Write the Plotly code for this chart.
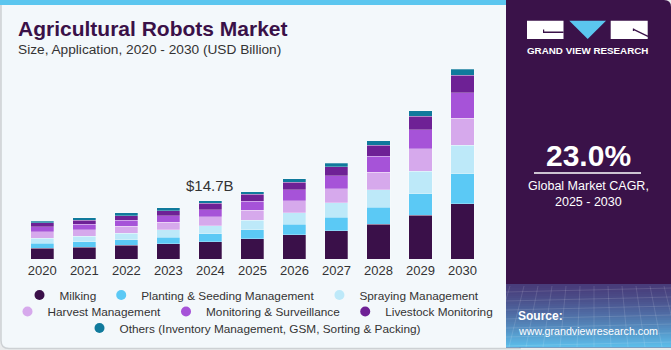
import plotly.graph_objects as go

W, H = 671, 350

years = ["2020", "2021", "2022", "2023", "2024", "2025", "2026", "2027", "2028", "2029", "2030"]
segments = [
    "Milking",
    "Planting & Seeding Management",
    "Spraying Management",
    "Harvest Management",
    "Monitoring & Surveillance",
    "Livestock Monitoring",
    "Others (Inventory Management, GSM, Sorting & Packing)",
]
milking    = [2.77, 3.02, 3.44, 3.86, 4.37, 5.04, 6.05, 7.14, 8.74, 11.0, 13.9]
planting   = [1.18, 1.34, 1.43, 1.60, 1.93, 2.35, 2.69, 3.44, 4.28, 5.46, 7.56]
spraying   = [1.26, 1.34, 1.60, 1.85, 2.10, 2.35, 2.94, 3.53, 4.45, 5.63, 7.14]
harvest    = [1.60, 1.68, 1.76, 1.93, 2.27, 2.60, 2.94, 3.61, 4.37, 5.63, 6.89]
monitoring = [1.26, 1.34, 1.51, 1.68, 1.76, 2.27, 2.77, 3.28, 4.03, 4.87, 6.38]
livestock  = [1.00, 1.00, 1.18, 1.26, 1.60, 1.68, 1.93, 2.18, 2.77, 3.36, 4.37]
others     = [0.50, 0.67, 0.67, 0.76, 0.67, 0.67, 0.92, 1.00, 1.09, 1.34, 1.60]
series_values = [milking, planting, spraying, harvest, monitoring, livestock, others]
colors = ["#3a1049", "#5bc9f5", "#bde9f9", "#d6a9ec", "#a653d8", "#6e2195", "#107a9c"]
legend_rows = ["legend", "legend", "legend", "legend2", "legend2", "legend2", "legend3"]
highlight_year = "2024"
highlight_label = "$14.7B"
cagr_text = "23.0%"


def X(px):
    return px / W


def Y(py):
    return 1 - py / H


fig = go.Figure()
for name, vals, col in zip(segments, series_values, colors):
    fig.add_trace(go.Bar(
        x=years, y=vals, name=name, marker_color=col,
        marker_line=dict(width=0.6, color="rgba(255,255,255,0.45)"),
        showlegend=False, hoverinfo="skip",
    ))
for name, col, lg in zip(segments, colors, legend_rows):
    fig.add_trace(go.Scatter(
        x=[years[0]], y=[None], mode="markers", name=name, legend=lg,
        marker=dict(color=col, size=10, symbol="circle"), showlegend=True, hoverinfo="skip",
    ))

hl_idx = years.index(highlight_year)
total_hl = sum(s[hl_idx] for s in series_values)

shapes = []
# left panel
r = 8
x0, x1, y0, y1 = 1, 520, 0, 348.5
shapes.append(dict(
    type="path", xref="paper", yref="paper", layer="below",
    path=(f"M {X(x0)} {Y(y0)} L {X(x1)} {Y(y0)} L {X(x1)} {Y(y1)} L {X(x0 + r)} {Y(y1)} "
          f"Q {X(x0)} {Y(y1)} {X(x0)} {Y(y1 - r)} Z"),
    fillcolor="#f3f8fb", line=dict(color="#cdd1d4", width=1.5),
))
# top blue stripe
shapes.append(dict(type="rect", xref="paper", yref="paper", layer="below",
                   x0=X(0), x1=X(512), y0=Y(0), y1=Y(5), fillcolor="#5bc6ef", line_width=0))
# dark panel with rounded top-right corner
px0, px1, py0, py1 = 506, 671, 0, 347.5
r2 = 7
shapes.append(dict(
    type="path", xref="paper", yref="paper", layer="below",
    path=(f"M {X(px0)} {Y(py0)} L {X(px1 - r2)} {Y(py0)} Q {X(px1)} {Y(py0)} {X(px1)} {Y(py0 + r2)} "
          f"L {X(px1)} {Y(py1)} L {X(px0)} {Y(py1)} Z"),
    fillcolor="#3a1249", line_width=0,
))


def lerp(a, b, t):
    return int(round(a + (b - a) * t))


c_top = (0x48, 0x3c, 0x7a)
c_bot = (0x5c, 0xbd, 0xea)
gy0, gy1 = 284, 347.5
n = 32
for i in range(n):
    t = i / (n - 1)
    col = "#%02x%02x%02x" % tuple(lerp(c_top[k], c_bot[k], t ** 1.3) for k in range(3))
    ya = gy0 + (gy1 - gy0) * i / n
    yb = gy0 + (gy1 - gy0) * (i + 1) / n + 0.5
    shapes.append(dict(type="rect", xref="paper", yref="paper", layer="below",
                       x0=X(px0), x1=X(px1), y0=Y(ya), y1=Y(min(yb, gy1)),
                       fillcolor=col, line_width=0))
# faint grid texture
for k in range(7):
    yy = 290 + k * 9
    shapes.append(dict(type="line", xref="paper", yref="paper", layer="below",
                       x0=X(px0), x1=X(px1), y0=Y(yy + 2), y1=Y(yy - 2),
                       line=dict(color="rgba(255,255,255,0.12)", width=1)))
for k in range(12):
    xx = 510 + k * 14
    shapes.append(dict(type="line", xref="paper", yref="paper", layer="below",
                       x0=X(xx), x1=X(xx + (k - 6) * 3), y0=Y(286), y1=Y(347),
                       line=dict(color="rgba(255,255,255,0.12)", width=1)))
# logo
shapes.append(dict(type="rect", xref="paper", yref="paper", x0=X(527), x1=X(563.5), y0=Y(20.7), y1=Y(39),
                   fillcolor="white", line_width=0))
shapes.append(dict(type="path", xref="paper", yref="paper",
                   path=f"M {X(543)} {Y(29.5)} L {X(543)} {Y(33)} L {X(563.5)} {Y(33)} L {X(563.5)} {Y(31.5)} L {X(544.2)} {Y(31.5)} L {X(544.2)} {Y(29.5)} Z",
                   fillcolor="#3a1249", line_width=0))
shapes.append(dict(type="path", xref="paper", yref="paper",
                   path=f"M {X(569.3)} {Y(20.7)} L {X(606)} {Y(20.7)} L {X(587.7)} {Y(39)} Z",
                   fillcolor="#5bc6ef", line_width=0))
shapes.append(dict(type="rect", xref="paper", yref="paper", x0=X(610.7), x1=X(647.7), y0=Y(20.7), y1=Y(39),
                   fillcolor="white", line_width=0))
shapes.append(dict(type="line", xref="paper", yref="paper", x0=X(633.5), x1=X(648), y0=Y(29.3), y1=Y(36.3),
                   line=dict(color="#3a1249", width=1.3)))
shapes.append(dict(type="line", xref="paper", yref="paper", x0=X(633.5), x1=X(633.5), y0=Y(28.5), y1=Y(31),
                   line=dict(color="#3a1249", width=1.3)))
# CAGR underline
shapes.append(dict(type="line", xref="paper", yref="paper", x0=X(534), x1=X(641), y0=Y(173), y1=Y(173),
                   line=dict(color="white", width=1.3)))

font_main = "Liberation Sans, Arial, sans-serif"
annotations = [
    dict(text="<b>Agricultural Robots Market</b>", x=X(16), y=Y(28.5), xref="paper", yref="paper",
         xanchor="left", yanchor="middle", showarrow=False,
         font=dict(family=font_main, size=21, color="#3a1148")),
    dict(text="Size, Application, 2020 - 2030 (USD Billion)", x=X(16), y=Y(49), xref="paper", yref="paper",
         xanchor="left", yanchor="middle", showarrow=False,
         font=dict(family=font_main, size=13.7, color="#333333")),
    dict(text=highlight_label, x=hl_idx, y=total_hl, xref="x", yref="y",
         xanchor="center", yanchor="bottom", yshift=5, showarrow=False,
         font=dict(family=font_main, size=15, color="#333333")),
    dict(text="<b>" + cagr_text + "</b>", x=X(588.5), y=Y(155), xref="paper", yref="paper",
         xanchor="center", yanchor="middle", showarrow=False,
         font=dict(family=font_main, size=30, color="white")),
    dict(text="Global Market CAGR,", x=X(588), y=Y(185.5), xref="paper", yref="paper",
         xanchor="center", yanchor="middle", showarrow=False,
         font=dict(family=font_main, size=12.5, color="white")),
    dict(text="2025 - 2030", x=X(588), y=Y(201.5), xref="paper", yref="paper",
         xanchor="center", yanchor="middle", showarrow=False,
         font=dict(family=font_main, size=12.5, color="white")),
    dict(text="<b>GRAND VIEW RESEARCH</b>", x=X(587.5), y=Y(51), xref="paper", yref="paper",
         xanchor="center", yanchor="middle", showarrow=False,
         font=dict(family=font_main, size=9.8, color="white")),
    dict(text="<b>Source:</b>", x=X(516), y=Y(316), xref="paper", yref="paper",
         xanchor="left", yanchor="middle", showarrow=False,
         font=dict(family=font_main, size=12, color="white")),
    dict(text="www.grandviewresearch.com", x=X(516), y=Y(330.5), xref="paper", yref="paper",
         xanchor="left", yanchor="middle", showarrow=False,
         font=dict(family=font_main, size=10.7, color="white")),
]

legend_common = dict(orientation="h", xanchor="center", yanchor="middle", bgcolor="rgba(0,0,0,0)",
                     font=dict(family=font_main, size=11.8, color="#333333"), itemclick=False,
                     itemdoubleclick=False, borderwidth=0, traceorder="normal")

fig.update_layout(
    width=W, height=H,
    margin=dict(l=0, r=0, t=0, b=0, pad=0, autoexpand=False),
    paper_bgcolor="#e9ebec",
    plot_bgcolor="rgba(0,0,0,0)",
    barmode="stack",
    bargap=0.45,
    xaxis=dict(domain=[X(21.3), X(483.5)], type="category", categoryorder="array", categoryarray=years,
               range=[-0.5, len(years) - 0.5], showgrid=False, zeroline=False, automargin=False,
               showline=False, ticks="", tickfont=dict(family=font_main, size=13, color="#333333"),
               ticklabelstandoff=2, fixedrange=True),
    yaxis=dict(domain=[Y(259), Y(60.5)], range=[0, 50], visible=False, fixedrange=True, automargin=False),
    shapes=shapes,
    annotations=annotations,
    legend=dict(x=X(252), y=Y(295), **legend_common),
    legend2=dict(x=X(253), y=Y(311.5), **legend_common),
    legend3=dict(x=X(253), y=Y(328), **legend_common),
    showlegend=True,
)

fig.write_html("out.html", config={"displayModeBar": False})
